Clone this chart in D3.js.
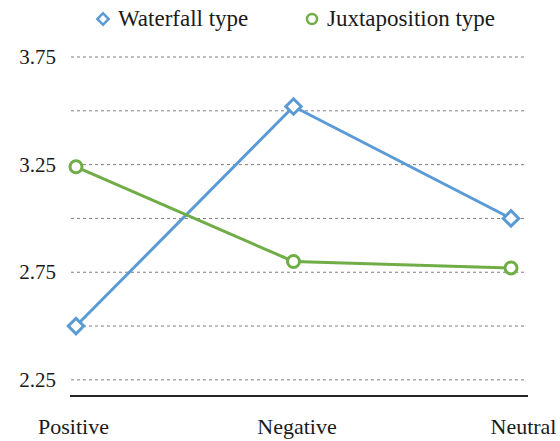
<!DOCTYPE html>
<html>
<head>
<meta charset="utf-8">
<script src="https://cdn.jsdelivr.net/npm/d3@7"></script>
<style>
  html, body { margin: 0; padding: 0; background: #fff; }
  svg { display: block; }
</style>
</head>
<body>
<svg id="chart" width="560" height="441"></svg>
<script>
// Chart data
const categories = ["Positive", "Negative", "Neutral"];
const waterfall = [2.50, 3.52, 3.00];
const juxtaposition = [3.24, 2.80, 2.77];
const seriesNames = ["Waterfall type", "Juxtaposition type"];
const yTicks = [2.25, 2.5, 2.75, 3.0, 3.25, 3.5, 3.75];
const yLabels = ["2.25", "", "2.75", "", "3.25", "", "3.75"];
const yBase = 2.175;

const colors = ["#5b9bd5", "#70ad47"];
const FONT = "Liberation Serif";
const INK = "#1a1a1a";

const svg = d3.select("#chart");

const x = d3.scalePoint().domain(categories).range([76, 511]);
const y = d3.scaleLinear().domain([yBase, 3.75]).range([396, 57]);

// dashed gridlines
svg.append("g").selectAll("line").data(yTicks).join("line")
  .attr("x1", 71).attr("x2", 526)
  .attr("y1", d => y(d)).attr("y2", d => y(d))
  .attr("stroke", "#7f7f7f").attr("stroke-width", 1)
  .attr("stroke-dasharray", "3,3");

// value axis labels
const yAxis = svg.append("g")
  .attr("transform", "translate(56,0)")
  .call(d3.axisLeft(y).tickValues(yTicks).tickSize(0).tickPadding(0)
    .tickFormat((d, i) => yLabels[i]));
yAxis.attr("font-family", FONT);
yAxis.select(".domain").remove();
yAxis.selectAll(".tick text")
  .attr("font-family", FONT).attr("font-size", 21).attr("fill", INK);

// category axis
const xAxis = svg.append("g")
  .attr("transform", `translate(0,${y(yBase)})`)
  .call(d3.axisBottom(x).tickSize(0).tickPadding(22));
xAxis.attr("font-family", FONT);
xAxis.select(".domain").attr("d", "M70,0H528").attr("stroke", "#262626").attr("stroke-width", 2.2);
const labelShift = [-3, 3, 12];
xAxis.selectAll(".tick text")
  .attr("font-family", FONT).attr("font-size", 22).attr("fill", INK)
  .attr("dx", (d, i) => labelShift[i]);

// series
const series = [waterfall, juxtaposition];
const line = d3.line().x((d, i) => x(categories[i])).y(d => y(d));

series.forEach((vals, s) => {
  svg.append("path").datum(vals)
    .attr("d", line)
    .attr("fill", "none")
    .attr("stroke", colors[s])
    .attr("stroke-width", 3);
});

// markers
const diamond = d3.symbol().type(d3.symbolSquare).size(120);
svg.append("g").selectAll("path").data(waterfall).join("path")
  .attr("d", diamond)
  .attr("transform", (d, i) => `translate(${x(categories[i])},${y(d)}) rotate(45)`)
  .attr("fill", "#fff").attr("stroke", colors[0]).attr("stroke-width", 3);

svg.append("g").selectAll("circle").data(juxtaposition).join("circle")
  .attr("cx", (d, i) => x(categories[i])).attr("cy", d => y(d))
  .attr("r", 6)
  .attr("fill", "#fff").attr("stroke", colors[1]).attr("stroke-width", 3);

// legend
const legend = svg.append("g")
  .attr("font-family", FONT).attr("font-size", 10).attr("text-anchor", "start");
const legendX = [103, 312];
seriesNames.forEach((name, s) => {
  const g = legend.append("g").attr("class", "tick").attr("transform", `translate(${legendX[s]},19)`);
  if (s === 0) {
    g.append("path").attr("d", d3.symbol().type(d3.symbolSquare).size(64))
      .attr("transform", "rotate(45)")
      .attr("fill", "#fff").attr("stroke", colors[0]).attr("stroke-width", 2.5);
  } else {
    g.append("circle").attr("r", 5)
      .attr("fill", "#fff").attr("stroke", colors[1]).attr("stroke-width", 2.5);
  }
  g.append("text").attr("x", 15).attr("y", 0).attr("dy", "0.32em")
    .attr("font-family", FONT).attr("font-size", 23).attr("fill", INK)
    .text(name);
});
</script>
</body>
</html>
